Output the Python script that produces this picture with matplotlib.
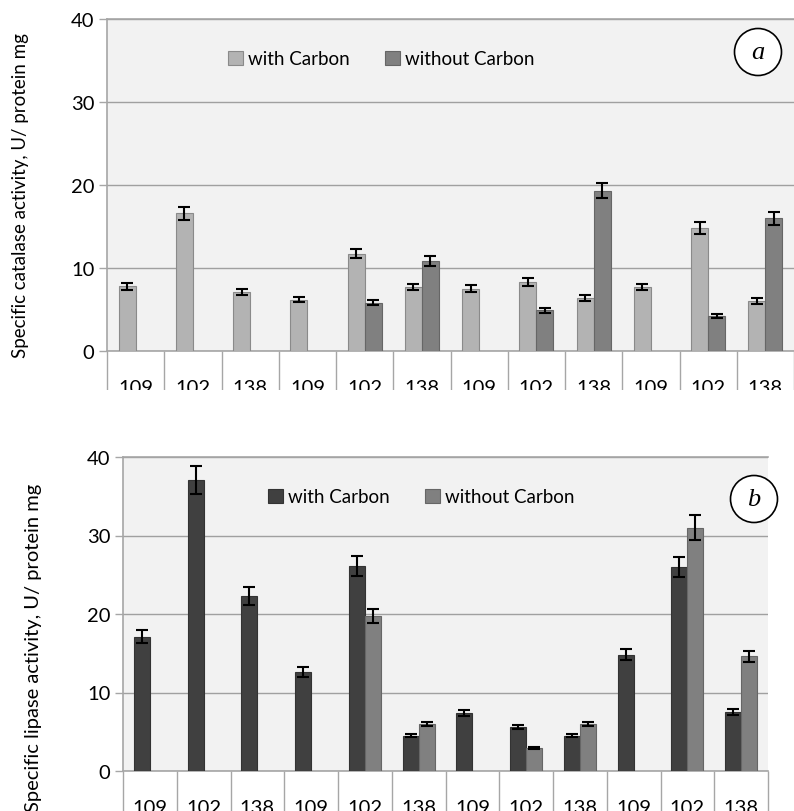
import numpy as np
import matplotlib.pyplot as plt
from matplotlib.patches import Ellipse, Rectangle

plt.rcParams['font.family'] = ['Lato', 'DejaVu Sans']

# category labels (strain numbers), 12 groups
strains = ['109', '102', '138', '109', '102', '138', '109', '102', '138', '109', '102', '138']

# catalase (panel a)
cat_with = [7.8, 16.6, 7.1, 6.2, 11.7, 7.7, 7.5, 8.3, 6.4, 7.7, 14.8, 6.0]
cat_with_err = [0.4, 0.8, 0.35, 0.3, 0.55, 0.4, 0.4, 0.5, 0.35, 0.4, 0.7, 0.35]
cat_without = [np.nan, np.nan, np.nan, np.nan, 5.8, 10.9, np.nan, 4.9, 19.3, np.nan, 4.2, 16.0]
cat_without_err = [0, 0, 0, 0, 0.3, 0.6, 0, 0.3, 0.9, 0, 0.25, 0.8]

# lipase (panel b)
lip_with = [17.1, 37.1, 22.3, 12.6, 26.1, 4.5, 7.4, 5.6, 4.5, 14.8, 26.0, 7.5]
lip_with_err = [0.8, 1.8, 1.1, 0.6, 1.3, 0.2, 0.35, 0.25, 0.2, 0.7, 1.3, 0.35]
lip_without = [np.nan, np.nan, np.nan, np.nan, 19.7, 6.0, np.nan, 2.9, 6.0, np.nan, 31.0, 14.6]
lip_without_err = [0, 0, 0, 0, 0.9, 0.3, 0, 0.1, 0.3, 0, 1.6, 0.7]

W, H = 794, 812
fig = plt.figure(figsize=(W / 100, H / 100), dpi=100)


def panel(rect, vwith, ewith, vwo, ewo, cwith, cwo, ewc, ewo_c, ylabel, ylab_xy,
          ylab_size, leg_xy, letter, circ_xy):
    ax = fig.add_axes(rect)
    ax.set_facecolor('#f2f2f2')
    x = np.arange(len(strains))
    w = 0.297
    ax.bar(x - w / 2, vwith, w, color=cwith, edgecolor=ewc, linewidth=0.8,
           label='with Carbon', zorder=3)
    ax.bar(x + w / 2, vwo, w, color=cwo, edgecolor=ewo_c, linewidth=0.8,
           label='without Carbon', zorder=3)
    ax.errorbar(x - w / 2, vwith, yerr=ewith, fmt='none', ecolor='black',
                elinewidth=1.5, capsize=4, capthick=1.5, zorder=4)
    ax.errorbar(x + w / 2, vwo, yerr=ewo, fmt='none', ecolor='black',
                elinewidth=1.5, capsize=4, capthick=1.5, zorder=4)
    ax.set_xlim(-0.5, len(strains) - 0.5)
    ax.set_ylim(0, 40)
    ax.set_yticks([0, 10, 20, 30, 40])
    ax.yaxis.grid(True, color='#a0a0a0', linewidth=1)
    ax.set_axisbelow(True)
    ax.set_xticks(x)
    ax.set_xticklabels(strains)
    ax.set_xticks(np.arange(-0.5, len(strains)), minor=True)
    ax.tick_params(axis='x', which='major', length=0, pad=20, labelsize=14.5)
    ax.tick_params(axis='x', which='minor', length=40, width=1, color='#a6a6a6',
                   direction='out')
    ax.tick_params(axis='y', length=6, width=1, color='#a6a6a6', labelsize=14.5, pad=3)
    for s in ['top', 'left', 'bottom']:
        ax.spines[s].set_color('#a6a6a6')
        ax.spines[s].set_linewidth(1.2)
    ax.spines['right'].set_visible(False)
    ax.legend(loc='center', bbox_to_anchor=leg_xy, ncol=2, frameon=False,
              fontsize=13.5, handlelength=0.8, handleheight=0.8, handletextpad=0.25,
              columnspacing=1.9)
    fig.text(ylab_xy[0] / W, 1 - ylab_xy[1] / H, ylabel, rotation=90,
             ha='center', va='center', fontsize=ylab_size)
    cx, cy = circ_xy
    fig.patches.append(Ellipse((cx / W, 1 - cy / H), 47 / W, 47 / H,
                               transform=fig.transFigure, facecolor='white',
                               edgecolor='black', linewidth=1.2, zorder=5))
    fig.text(cx / W, 1 - cy / H, letter, ha='center', va='center', fontsize=19,
             style='italic', family='Liberation Serif', zorder=6)
    return ax


panel([107 / W, 1 - 352 / H, 687 / W, 332 / H], cat_with, cat_with_err,
      cat_without, cat_without_err, '#b3b3b3', '#808080', '#8a8a8a', '#666666',
      'Specific catalase activity, U/ protein mg', (21, 196), 13.5,
      (0.399, 0.88), 'a', (758, 53))

panel([123 / W, 1 - 772 / H, 645 / W, 314 / H], lip_with, lip_with_err,
      lip_without, lip_without_err, '#404040', '#808080', '#333333', '#666666',
      'Specific lipase activity, U/ protein mg', (34, 648), 14.5,
      (0.462, 0.873), 'b', (754, 500))

# the top panel's label row is cut off in the source figure
fig.patches.append(Rectangle((0, 1 - 432 / H), 1, 41 / H, transform=fig.transFigure,
                             facecolor='white', edgecolor='none', zorder=4))

fig.savefig('out.png', dpi=100)
